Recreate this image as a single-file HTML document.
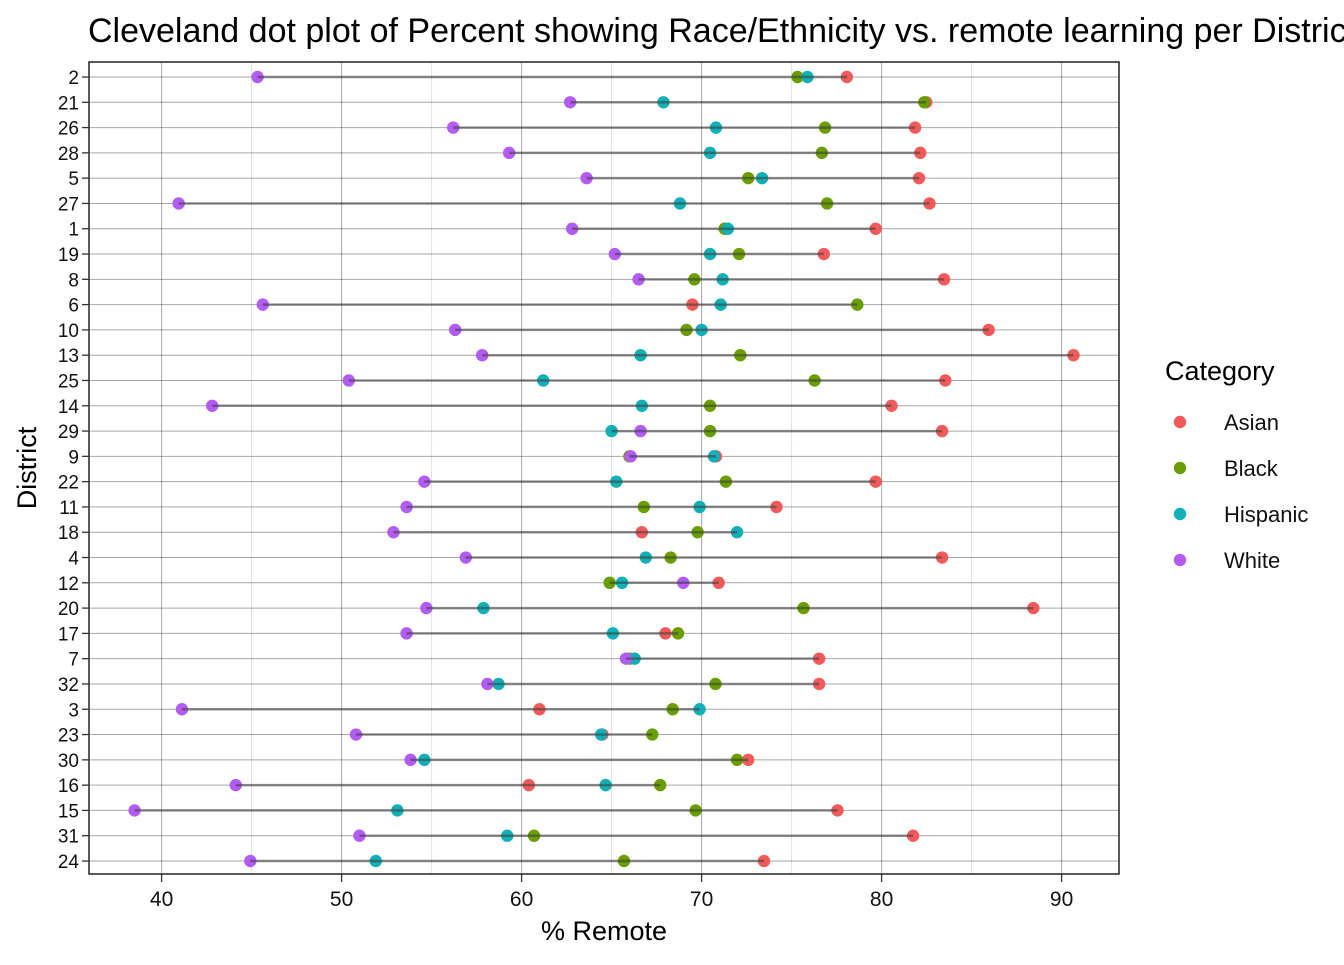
<!DOCTYPE html>
<html><head><meta charset="utf-8"><style>
body{margin:0;background:#fff;width:1344px;height:960px;overflow:hidden;font-family:"Liberation Sans",Arial,sans-serif}
</style></head><body>
<svg width="1344" height="960" xmlns="http://www.w3.org/2000/svg" font-family="Liberation Sans, Arial, sans-serif">
<text x="88" y="42" font-size="34" fill="#000">Cleveland dot plot of Percent showing Race/Ethnicity vs. remote learning per District</text>
<g id="grid"></g>
<g id="marks"></g>
<rect x="89" y="62" width="1030" height="812" fill="none" stroke="#222" stroke-width="1.5"/>
<g id="axes"></g>
<text x="604" y="940" font-size="27" text-anchor="middle">% Remote</text>
<text transform="translate(36,468) rotate(-90)" font-size="27" text-anchor="middle">District</text>
<g>
<text x="1165" y="380" font-size="27">Category</text>
<g id="legend"></g>
</g>
</svg>
<script>
const districts=["2","21","26","28","5","27","1","19","8","6","10","13","25","14","29","9","22","11","18","4","12","20","17","7","32","3","23","30","16","15","31","24"];
const asian=[78.07,82.48,81.86,82.15,82.08,82.66,79.67,76.79,83.47,69.49,85.95,90.66,83.54,80.55,83.36,70.80,79.67,74.16,66.68,83.36,70.95,88.43,67.99,76.53,76.53,60.99,64.49,72.59,60.40,77.55,81.75,73.47];
const black=[75.33,82.37,76.86,76.68,72.59,76.97,71.28,72.08,69.60,78.65,69.16,72.15,76.28,70.47,70.47,65.99,71.35,66.79,69.78,68.28,64.89,75.66,68.69,66.0,70.77,68.39,67.26,71.97,67.70,69.67,60.69,65.69];
const hispanic=[75.88,67.88,70.80,70.47,73.36,68.80,71.46,70.47,71.17,71.06,70.0,66.61,61.20,66.68,65.0,70.69,65.26,69.89,71.97,66.90,65.58,57.88,65.07,66.28,58.72,69.89,64.42,54.60,64.67,53.10,59.20,51.90];
const white=[45.33,62.70,56.20,59.31,63.61,40.95,62.81,65.18,66.50,45.62,56.31,57.81,50.40,42.81,66.61,66.06,54.60,53.61,52.88,56.90,68.98,54.71,53.61,65.80,58.10,41.13,50.80,53.83,44.12,38.50,50.99,44.93];
const xTicks=[40,50,60,70,80,90];
const seriesNames=["Asian","Black","Hispanic","White"];
const colors=["#F05A5A","#6A9E00","#12B0B6","#B25CF2"];
const NS="http://www.w3.org/2000/svg";
function X(v){return 341.6+(v-50)*18.0;}
function Y(i){return 77+i*(861-77)/(districts.length-1);}
function mk(t,a,p){const e=document.createElementNS(NS,t);for(const k in a)e.setAttribute(k,a[k]);p.appendChild(e);return e;}
const grid=document.getElementById('grid'),marks=document.getElementById('marks'),axes=document.getElementById('axes'),legend=document.getElementById('legend');
for(let v=35;v<=95;v+=5){const x=X(v);if(x<90||x>1119)continue;const major=v%10===0;
 const l=mk('line',{x1:x,x2:x,y1:62,y2:874,stroke:major?'rgba(0,0,0,0.35)':'rgba(0,0,0,0.13)','stroke-width':1},grid);
 
 }
districts.forEach((d,i)=>{const l=mk('line',{x1:90,x2:1119,y1:Y(i),y2:Y(i),stroke:'rgba(0,0,0,0.35)','stroke-width':1},grid);
 
 
 const t=mk('text',{x:79,y:Y(i)+7,'font-size':19,'text-anchor':'end',fill:'#111'},axes);t.textContent=d;
 
 
 const tk=mk('line',{x1:82,x2:89,y1:Y(i),y2:Y(i),stroke:'#333','stroke-width':1.3},axes);
 
 });
xTicks.forEach(v=>{const t=mk('text',{x:X(v),y:906,'font-size':21,'text-anchor':'middle',fill:'#111'},axes);t.textContent=v;
 
 
 const tk=mk('line',{x1:X(v),x2:X(v),y1:874,y2:882,stroke:'#333','stroke-width':1.3},axes);
 
 });
const all=[asian,black,hispanic,white];
all.forEach((s,k)=>{s.forEach((v,i)=>{const c=mk('circle',{cx:X(v),cy:Y(i),r:6.2,fill:colors[k]},marks);
 
 });});
districts.forEach((d,i)=>{const vals=all.map(s=>s[i]);const mn=Math.min(...vals),mx=Math.max(...vals);
 const s=mk('line',{x1:X(mn),x2:X(mx),y1:Y(i),y2:Y(i),stroke:'rgba(60,60,60,0.55)','stroke-width':2.5},marks);
 
 });
seriesNames.forEach((n,k)=>{const y=422+k*46;
 const c=mk('circle',{cx:1180,cy:y,r:6.2,fill:colors[k]},legend);
 
 
 const t=mk('text',{x:1224,y:y+8,'font-size':22,fill:'#111'},legend);t.textContent=n;
 
 });
</script>
</body></html>
